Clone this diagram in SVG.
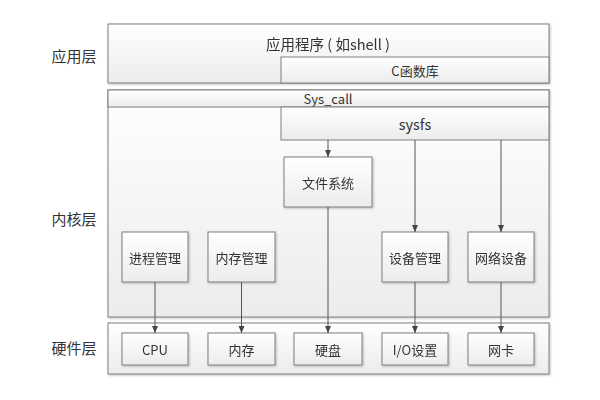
<svg xmlns="http://www.w3.org/2000/svg" width="600" height="400" viewBox="0 0 600 400">
<style>
.box{fill:url(#g);stroke:#7f7f7f;stroke-width:1}
.band{fill:url(#g);stroke:#7f7f7f;stroke-width:1}
.t{font-family:"Noto Sans CJK SC","Microsoft YaHei",sans-serif;font-size:13px;fill:#333;text-anchor:middle;dominant-baseline:central}
.big{font-size:14.5px}
.lay{font-family:"Noto Sans CJK SC",sans-serif;font-size:15px;fill:#333;text-anchor:middle;dominant-baseline:central}
.c{stroke:#555;stroke-width:1;fill:none;marker-end:url(#a)}
</style>
<defs>
<linearGradient id="g" x1="0" y1="0" x2="0" y2="1">
<stop offset="0" stop-color="#ffffff"/>
<stop offset="1" stop-color="#ececec"/>
</linearGradient>
<filter id="sh" x="-5%" y="-5%" width="110%" height="115%">
<feDropShadow dx="1" dy="1" stdDeviation="0.8" flood-color="#000" flood-opacity="0.25"/>
</filter>
<marker id="a" markerWidth="8" markerHeight="8" refX="7" refY="4" orient="auto" markerUnits="userSpaceOnUse">
<path d="M0,1 L7,4 L0,7 Z" fill="#444"/>
</marker>
</defs>
<rect width="600" height="400" fill="#fff"/>

<g id="labels">
<text class="lay" x="74" y="55">应用层</text>
<text class="lay" x="74" y="218">内核层</text>
<text class="lay" x="74" y="347">硬件层</text>
</g>

<g id="app-layer" filter="url(#sh)">
<rect class="band" x="108" y="24" width="441" height="59"/>
<text class="t big" x="328" y="43">应用程序 ( 如shell )</text>
</g>
<g id="clib">
<rect class="band" x="281" y="57" width="268" height="26"/>
<text class="t" x="415" y="70">C函数库</text>
</g>

<g id="kernel-layer" filter="url(#sh)">
<rect class="band" x="108" y="90" width="441" height="227"/>
</g>
<g id="syscall">
<rect class="band" x="108" y="90" width="441" height="17"/>
<text class="t" x="328" y="98.5">Sys_call</text>
</g>
<g id="sysfs">
<rect class="band" x="281" y="107" width="268" height="33"/>
<text class="t big" x="415" y="123">sysfs</text>
</g>

<g id="hardware-layer" filter="url(#sh)">
<rect class="band" x="108" y="323" width="441" height="51"/>
</g>

<g id="fs" filter="url(#sh)"><rect class="box" x="284" y="157" width="88" height="50"/><text class="t" x="328" y="182">文件系统</text></g>
<g id="proc" filter="url(#sh)"><rect class="box" x="122" y="232" width="66" height="50"/><text class="t" x="155" y="257">进程管理</text></g>
<g id="mem" filter="url(#sh)"><rect class="box" x="208" y="232" width="67" height="50"/><text class="t" x="241.5" y="257">内存管理</text></g>
<g id="dev" filter="url(#sh)"><rect class="box" x="382" y="232" width="66" height="50"/><text class="t" x="415" y="257">设备管理</text></g>
<g id="net" filter="url(#sh)"><rect class="box" x="468" y="232" width="66" height="50"/><text class="t" x="501" y="257">网络设备</text></g>

<g id="cpu" filter="url(#sh)"><rect class="box" x="122" y="333" width="66" height="32"/><text class="t" x="155" y="349">CPU</text></g>
<g id="ram" filter="url(#sh)"><rect class="box" x="208" y="333" width="67" height="32"/><text class="t" x="241.5" y="349">内存</text></g>
<g id="disk" filter="url(#sh)"><rect class="box" x="294" y="333" width="68" height="32"/><text class="t" x="328" y="349">硬盘</text></g>
<g id="io" filter="url(#sh)"><rect class="box" x="382" y="333" width="66" height="32"/><text class="t" x="415" y="349">I/O设置</text></g>
<g id="nic" filter="url(#sh)"><rect class="box" x="468" y="333" width="66" height="32"/><text class="t" x="501" y="349">网卡</text></g>

<g id="connectors">
<line class="c" x1="328" y1="140" x2="328" y2="157"/>
<line class="c" x1="415" y1="140" x2="415" y2="232"/>
<line class="c" x1="501" y1="140" x2="501" y2="232"/>
<line class="c" x1="155" y1="282" x2="155" y2="333"/>
<line class="c" x1="241.5" y1="282" x2="241.5" y2="333"/>
<line class="c" x1="328" y1="207" x2="328" y2="333"/>
<line class="c" x1="415" y1="282" x2="415" y2="333"/>
<line class="c" x1="501" y1="282" x2="501" y2="333"/>
</g>
</svg>
